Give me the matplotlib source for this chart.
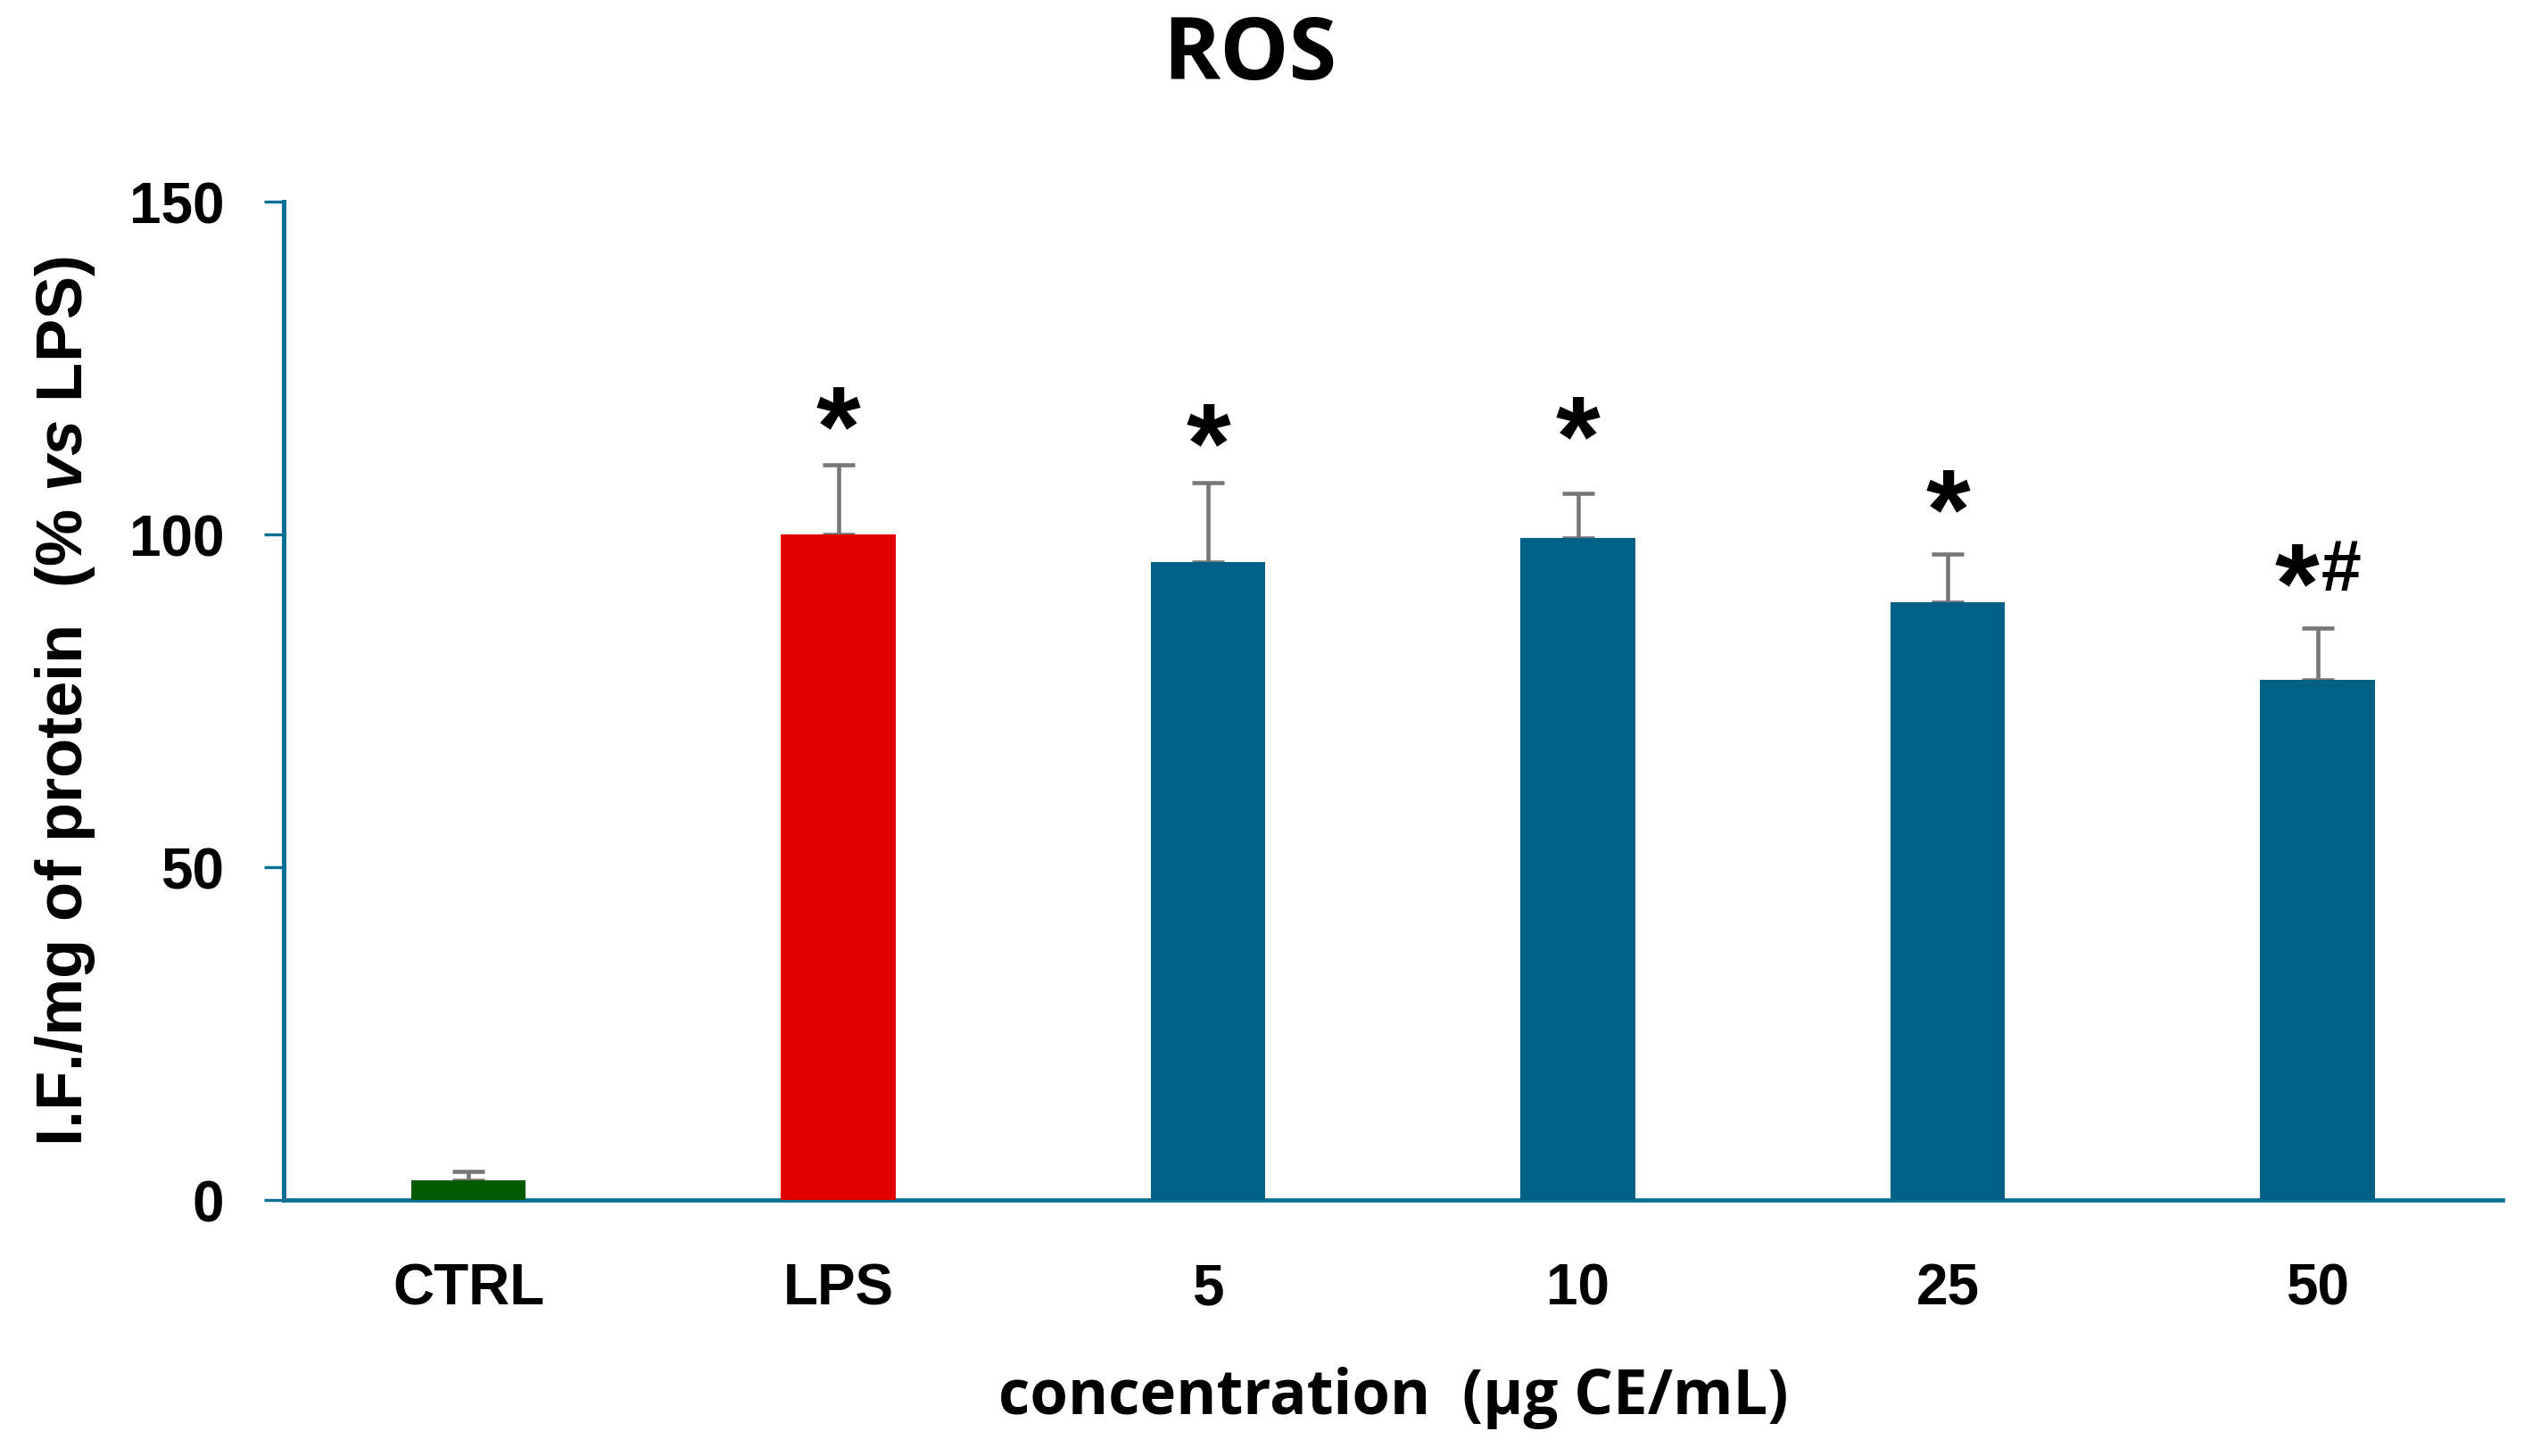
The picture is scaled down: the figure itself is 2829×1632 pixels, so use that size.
import numpy as np
import matplotlib
matplotlib.use('Agg')
import matplotlib.pyplot as plt

#%% data
groups = ['CTRL', 'LPS', '5', '10', '25', '50']
ros_mean = [3.0, 100.0, 95.8, 99.4, 89.8, 78.1]
ros_err = [1.3, 10.5, 12.0, 6.8, 7.2, 7.8]
sig_marks = ['', '*', '*', '*', '*', '*']
hash_marks = ['', '', '', '', '', '#']
sig_y = [None, 119.0, 116.4, 117.5, 106.5, 95.3]

bar_colors = ['#005a00', '#e00000', '#006085', '#006085', '#006085', '#006085']
axis_color = '#0b6f96'

#%% fonts
plt.rcParams['mathtext.fontset'] = 'custom'
plt.rcParams['mathtext.it'] = 'Liberation Sans:italic:bold'
plt.rcParams['mathtext.rm'] = 'Liberation Sans:bold'
tick_font = {'family': ['Liberation Sans', 'DejaVu Sans'], 'weight': 'bold'}
label_font = {'family': ['Open Sans', 'DejaVu Sans'], 'weight': 'bold'}

star_size = 92
hash_size = 58

#%% plot
fig = plt.figure(figsize=(28.29, 16.33), dpi=100)
ax = fig.add_axes([0.1124, 0.1758, 0.8791, 0.6852])

x = np.arange(len(groups))
ax.bar(x, ros_mean, width=0.31, color=bar_colors, zorder=3)
ax.errorbar(x, ros_mean, yerr=[np.zeros(len(x)), ros_err], fmt='none',
            ecolor='#777777', elinewidth=3.3, capsize=13, capthick=3.3, zorder=2)

# asterisk glyph centre sits about 0.49 em above the baseline
for i in range(len(groups)):
    if sig_y[i] is None:
        continue
    if hash_marks[i]:
        ax.annotate(sig_marks[i], (x[i], sig_y[i]), xytext=(-17, -0.49 * star_size),
                    textcoords='offset points', ha='center', va='baseline',
                    fontsize=star_size, **tick_font)
        ax.annotate(hash_marks[i], (x[i], sig_y[i]), xytext=(19, -0.35 * hash_size + 1),
                    textcoords='offset points', ha='center', va='baseline',
                    fontsize=hash_size, **tick_font)
    else:
        ax.annotate(sig_marks[i], (x[i], sig_y[i]), xytext=(0, -0.49 * star_size),
                    textcoords='offset points', ha='center', va='baseline',
                    fontsize=star_size, **tick_font)

ax.set_xlim(-0.5, 5.5)
ax.set_ylim(0, 150)
ax.set_yticks([0, 50, 100, 150])
ax.set_xticks(x)
ax.set_xticklabels(groups)

for side in ['top', 'right']:
    ax.spines[side].set_visible(False)
ax.spines['left'].set_color(axis_color)
ax.spines['bottom'].set_color(axis_color)
ax.spines['left'].set_linewidth(3.6)
ax.spines['bottom'].set_linewidth(3.4)

ax.tick_params(axis='y', direction='out', length=16, width=2.4, color=axis_color, pad=32)
ax.tick_params(axis='x', length=0, pad=50)
for lab in ax.get_xticklabels() + ax.get_yticklabels():
    lab.set_fontsize(46)
    lab.set_fontfamily(tick_font['family'])
    lab.set_fontweight('bold')

ax.set_xlabel('concentration  (µg CE/mL)', fontsize=49.5, labelpad=41, **label_font)
ax.set_ylabel(r'I.F./mg of protein  (% $\mathit{vs}$ LPS)', fontsize=52, labelpad=26, **tick_font)
fig.text(0.495, 0.961, 'ROS', ha='center', va='center', fontsize=70, **label_font)

plt.savefig('out.png', dpi=100)
